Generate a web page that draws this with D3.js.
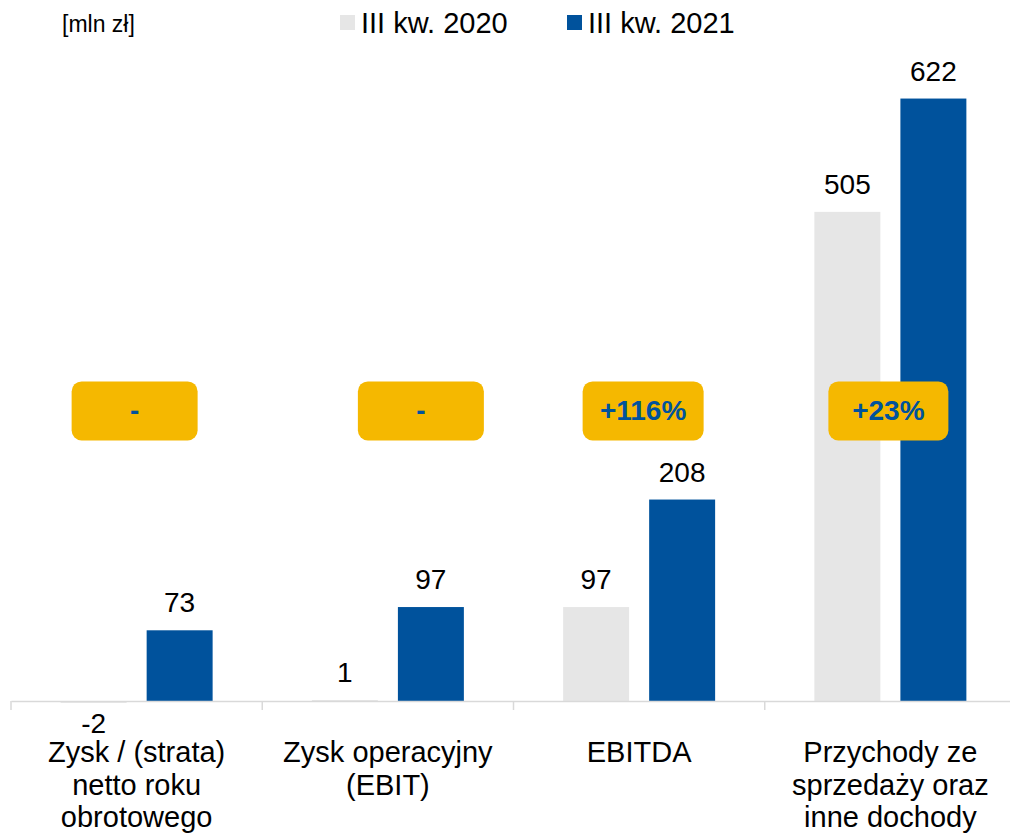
<!DOCTYPE html>
<html>
<head>
<meta charset="utf-8">
<title>Wyniki III kw.</title>
<script src="https://d3js.org/d3.v7.min.js"></script>
<style>
  body { margin: 0; background: #fff; }
  text { font-family: Arial, "Liberation Sans", sans-serif; }
</style>
</head>
<body>
<svg id="chart"></svg>
<script>
// data
const categories = [
  ['Zysk / (strata)', 'netto roku', 'obrotowego'],
  ['Zysk operacyjny', '(EBIT)'],
  ['EBITDA'],
  ['Przychody ze', 'sprzedaży oraz', 'inne dochody']
];
const seriesNames = ['III kw. 2020', 'III kw. 2021'];
const values2020 = [-2, 1, 97, 505];
const values2021 = [73, 97, 208, 622];
const changes = ['-', '-', '+116%', '+23%'];
const unitLabel = '[mln zł]';

const W = 1010, H = 835;
const colors = ['#e6e6e6', '#00529c'];
const yellow = '#f5b800';

const svg = d3.select('#chart').attr('width', W).attr('height', H);

const x = d3.scaleBand().domain(d3.range(categories.length)).range([11, 1016]);
const xSub = d3.scaleBand().domain([0, 1])
  .range([x.bandwidth() / 2 - 76, x.bandwidth() / 2 + 76])
  .paddingInner(0.233);
const y = d3.scaleLinear().domain([0, 700]).range([701, 23]);

const series = [values2020, values2021];

// bars + value labels
series.forEach((vals, s) => {
  const g = svg.append('g');
  g.selectAll('rect').data(vals).join('rect')
    .attr('x', (d, i) => x(i) + xSub(s))
    .attr('width', xSub.bandwidth())
    .attr('y', d => y(Math.max(0, d)))
    .attr('height', d => Math.abs(y(d) - y(0)))
    .attr('fill', colors[s]);
  g.selectAll('text').data(vals).join('text')
    .attr('x', (d, i) => x(i) + xSub(s) + xSub.bandwidth() / 2)
    .attr('y', d => d >= 0 ? y(d) - 18 : y(d) + 30)
    .attr('text-anchor', 'middle')
    .attr('font-size', 28)
    .attr('fill', '#000')
    .text(d => d);
});

// axis
const axis = svg.append('g').attr('transform', `translate(0,${y(0)})`)
  .call(d3.axisBottom(x).tickSize(0).tickFormat(''));
axis.select('.domain').attr('stroke', '#d9d9d9').attr('stroke-width', 1.5);
axis.selectAll('.tick').remove();
const bounds = x.domain().map(i => x(i)).concat([x.range()[1]]);
axis.selectAll('line.sep').data(bounds).join('line')
  .attr('class', 'sep')
  .attr('x1', d => d).attr('x2', d => d)
  .attr('y1', 0).attr('y2', 9)
  .attr('stroke', '#d9d9d9').attr('stroke-width', 1.5);

// category labels
svg.append('g').selectAll('text').data(categories).join('text')
  .attr('x', (d, i) => x(i) + x.bandwidth() / 2)
  .attr('y', 762)
  .attr('text-anchor', 'middle')
  .attr('font-size', 29)
  .attr('fill', '#000')
  .each(function(lines) {
    d3.select(this).selectAll('tspan').data(lines).join('tspan')
      .attr('x', d3.select(this).attr('x'))
      .attr('dy', (l, j) => j === 0 ? 0 : 32.5)
      .text(l => l);
  });

// change badges
const badgeOffset = [-2, 33, 4, -2];
const badgeW = [126, 126, 121, 120];
const badges = svg.append('g').selectAll('g').data(changes).join('g')
  .attr('transform', (d, i) => `translate(${x(i) + x.bandwidth() / 2 + badgeOffset[i]},${y(300)})`);
badges.append('rect')
  .attr('x', (d, i) => -badgeW[i] / 2).attr('y', -29)
  .attr('width', (d, i) => badgeW[i]).attr('height', 59)
  .attr('rx', 10)
  .attr('fill', yellow);
badges.append('text')
  .attr('text-anchor', 'middle')
  .attr('y', 10)
  .attr('font-size', 28)
  .attr('font-weight', 'bold')
  .attr('fill', colors[1])
  .text(d => d);

// unit + legend
svg.append('text')
  .attr('x', 62).attr('y', 32)
  .attr('font-size', 23)
  .attr('fill', '#000')
  .text(unitLabel);

const legendX = [340, 567];
const legend = svg.append('g').selectAll('g').data(seriesNames).join('g')
  .attr('transform', (d, i) => `translate(${legendX[i]},0)`);
legend.append('rect')
  .attr('x', 0).attr('y', 15)
  .attr('width', 15).attr('height', 15)
  .attr('fill', (d, i) => colors[i]);
legend.append('text')
  .attr('x', 21).attr('y', 33)
  .attr('font-size', 29)
  .attr('fill', '#000')
  .text(d => d);
</script>
</body>
</html>
